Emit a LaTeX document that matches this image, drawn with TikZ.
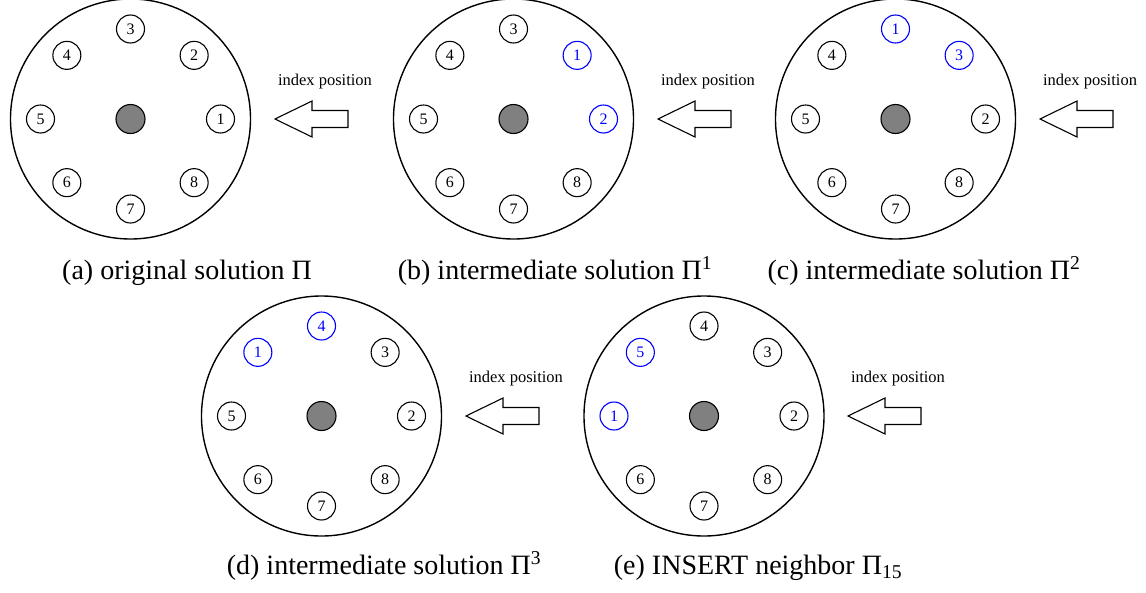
\documentclass[tikz,border=0pt]{standalone}
\usepackage{fontspec}
\setmainfont{Liberation Serif}
\begin{document}
\begin{tikzpicture}[x=1pt,y=1pt,
  bigc/.style={circle,draw,line width=1.4pt,minimum size=240pt,inner sep=0pt},
  hub/.style={circle,draw,line width=1.1pt,fill={rgb,255:red,128;green,128;blue,128},minimum size=29pt,inner sep=0pt},
  slot/.style={circle,draw,line width=1.1pt,minimum size=28pt,inner sep=0pt,font=\fontsize{16}{18}\selectfont},
  arr/.style={draw,line width=1.1pt,line join=miter},
  lab/.style={font=\fontsize{16.5}{19}\selectfont},
  captext/.style={font=\fontsize{28}{32}\selectfont,anchor=base,inner sep=0pt}]
\useasboundingbox (0,0) rectangle (1146,-592);
% big circles and hubs
\foreach \p/\cx/\cy in {a/130.5/119,b/513.5/119,c/895.5/119,d/321.5/416,e/704/416}{
  \node[bigc] (\p-big) at (\cx,-\cy) {};
  \node[hub] (\p-hub) at (\p-big.center) {};
}
% slots
\foreach \ang/\lab/\col [count=\i] in {0/1/black,45/2/black,90/3/black,135/4/black,180/5/black,225/6/black,270/7/black,315/8/black}
  \node[slot,draw=\col,text=\col] (a-s\i) at ([shift={(\ang:90)}]a-big.center) {\lab};
\foreach \ang/\lab/\col [count=\i] in {0/2/blue,45/1/blue,90/3/black,135/4/black,180/5/black,225/6/black,270/7/black,315/8/black}
  \node[slot,draw=\col,text=\col] (b-s\i) at ([shift={(\ang:90)}]b-big.center) {\lab};
\foreach \ang/\lab/\col [count=\i] in {0/2/black,45/3/blue,90/1/blue,135/4/black,180/5/black,225/6/black,270/7/black,315/8/black}
  \node[slot,draw=\col,text=\col] (c-s\i) at ([shift={(\ang:90)}]c-big.center) {\lab};
\foreach \ang/\lab/\col [count=\i] in {0/2/black,45/3/black,90/4/blue,135/1/blue,180/5/black,225/6/black,270/7/black,315/8/black}
  \node[slot,draw=\col,text=\col] (d-s\i) at ([shift={(\ang:90)}]d-big.center) {\lab};
\foreach \ang/\lab/\col [count=\i] in {0/2/black,45/3/black,90/4/black,135/5/blue,180/1/blue,225/6/black,270/7/black,315/8/black}
  \node[slot,draw=\col,text=\col] (e-s\i) at ([shift={(\ang:90)}]e-big.center) {\lab};
% index arrows and labels
\foreach \p/\tx/\ty in {a/275/119,b/658/119,c/1040/119,d/466/416,e/848/416}{
  \coordinate (\p-tip) at (\tx,-\ty);
  \draw[arr] (\p-tip) -- ++(37,18) -- ++(0,-9.5) -- ++(36,0) -- ++(0,-17) -- ++(-36,0) -- ++(0,-9.5) -- cycle;
  \node[lab] (\p-lab) at ([shift={(50,37)}]\p-tip) {index position};
}
% captions
\node[captext] (a-cap) at (187,-279) {(a) original solution Π};
\node[captext] (b-cap) at (555,-279) {(b) intermediate solution Π\textsuperscript{1}};
\node[captext] (c-cap) at (924,-279) {(c) intermediate solution Π\textsuperscript{2}};
\node[captext] (d-cap) at (384,-574) {(d) intermediate solution Π\textsuperscript{3}};
\node[captext] (e-cap) at (758,-574) {(e) INSERT neighbor Π\textsubscript{15}};
\end{tikzpicture}
\end{document}
